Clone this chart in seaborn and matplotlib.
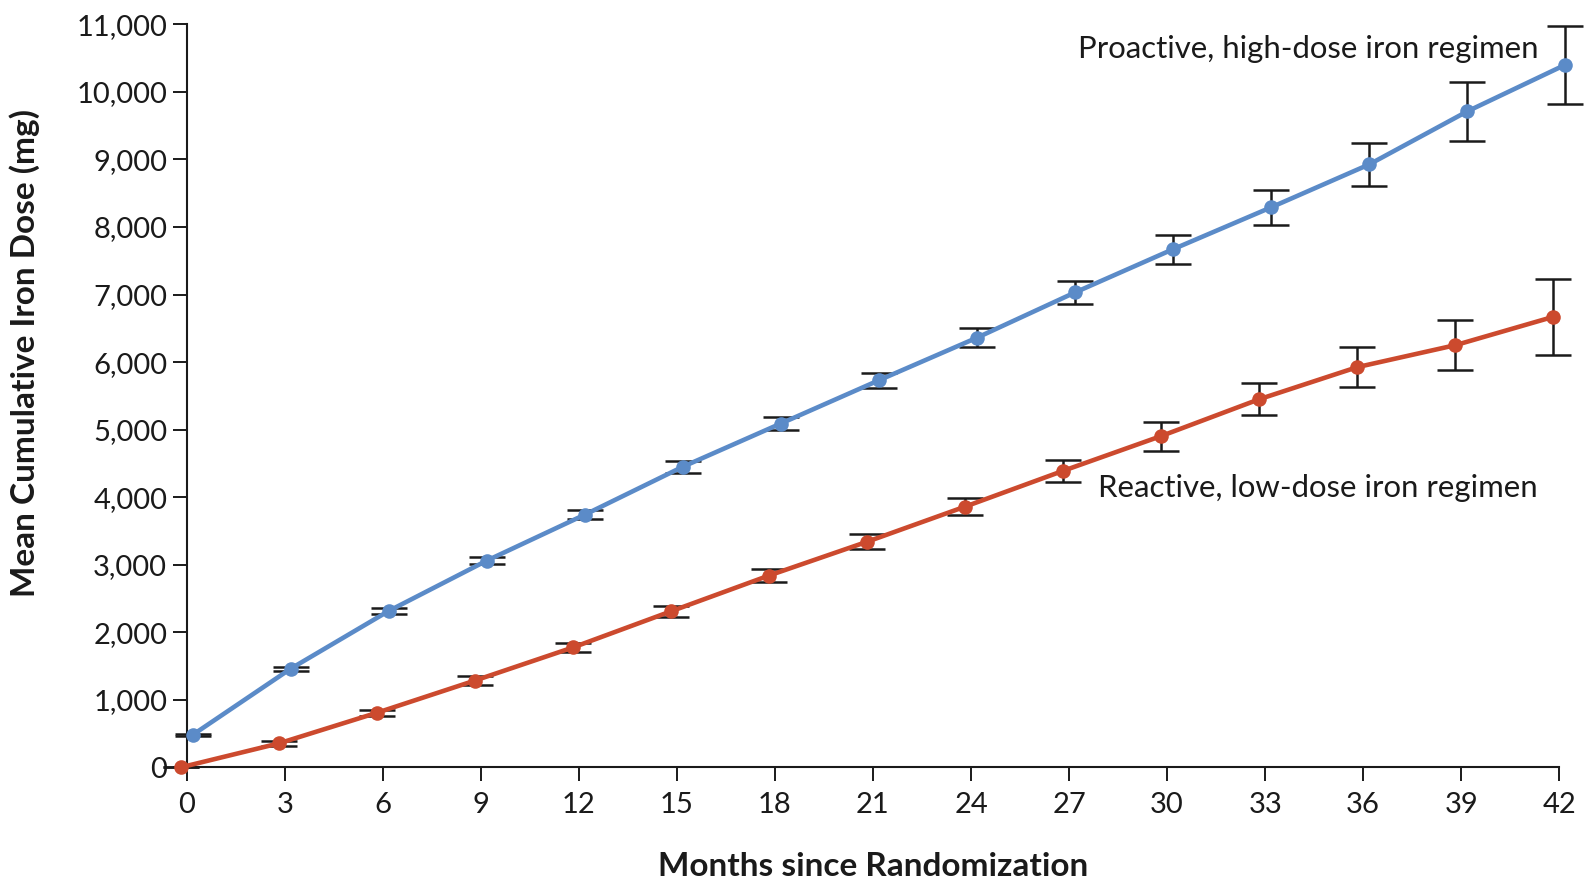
import numpy as np
import pandas as pd
import matplotlib
matplotlib.use("Agg")
import matplotlib.pyplot as plt
import seaborn as sns
from matplotlib.ticker import FuncFormatter

# ---------------- data ----------------
months = [0, 3, 6, 9, 12, 15, 18, 21, 24, 27, 30, 33, 36, 39, 42]
proactive_mean = [480, 1460, 2315, 3060, 3740, 4450, 5090, 5730, 6360, 7030, 7670, 8290, 8925, 9710, 10400]
proactive_err = [12, 32, 44, 55, 70, 90, 100, 115, 140, 170, 215, 255, 320, 440, 580]
reactive_mean = [0, 355, 808, 1285, 1775, 2310, 2840, 3340, 3860, 4390, 4905, 5450, 5925, 6250, 6670]
reactive_err = [0, 37, 44, 67, 62, 80, 90, 110, 130, 160, 215, 240, 300, 370, 565]
series_names = ["Proactive, high-dose iron regimen", "Reactive, low-dose iron regimen"]
x_ticks = list(range(0, 43, 3))
y_ticks = list(range(0, 11001, 1000))

# ---------------- style ----------------
BLUE = "#5b8bc8"
RED = "#cc4a2e"
DODGE = {series_names[0]: 0.18, series_names[1]: -0.18}

sns.set_theme(style="ticks")
plt.rcParams["font.family"] = ["Lato", "DejaVu Sans"]

df = pd.concat([
    pd.DataFrame({"month": months, "dose": proactive_mean, "err": proactive_err, "regimen": series_names[0]}),
    pd.DataFrame({"month": months, "dose": reactive_mean, "err": reactive_err, "regimen": series_names[1]}),
], ignore_index=True)
df["xpos"] = df["month"] + df["regimen"].map(DODGE)

fig = plt.figure(figsize=(15.89, 8.81), dpi=100)
ax = fig.add_axes([0.1175, 0.129, 0.8638, 0.8434])

# error bars (behind lines)
for name in series_names:
    sub = df[df["regimen"] == name]
    eb = ax.errorbar(sub["xpos"], sub["dose"], yerr=sub["err"], fmt="none",
                     ecolor="#1a1a1a", elinewidth=1.8, capsize=13.3, capthick=1.8, zorder=2)
    for art in list(eb.lines[1]) + list(eb.lines[2]):
        art.set_clip_on(False)

sns.lineplot(data=df, x="xpos", y="dose", hue="regimen", palette=[BLUE, RED],
             hue_order=series_names, marker="o", markersize=10.5, markeredgewidth=0,
             linewidth=3.3, legend=False, ax=ax, zorder=3, errorbar=None, sort=False)
for ln in ax.lines:
    ln.set_clip_on(False)

ax.set_xlim(0, 42)
ax.set_ylim(0, 11000)
ax.set_xticks(x_ticks)
ax.set_yticks(y_ticks)
ax.yaxis.set_major_formatter(FuncFormatter(lambda v, p: f"{int(v):,}"))
sns.despine(ax=ax)
for sp in ["left", "bottom"]:
    ax.spines[sp].set_linewidth(1.5)
    ax.spines[sp].set_color("#1a1a1a")
ax.tick_params(axis="both", length=10, width=1.4, color="#1a1a1a",
               labelsize=21, labelcolor="#1a1a1a", pad=4)
ax.tick_params(axis="x", pad=8)

ax.set_xlabel("Months since Randomization", fontsize=24, fontweight="bold",
              color="#1a1a1a", labelpad=24)
ax.set_ylabel("Mean Cumulative Iron Dose (mg)", fontsize=24, fontweight="bold",
              color="#1a1a1a")
ax.yaxis.set_label_coords(-0.107, 0.557)

ax.text(41.35, 10634, series_names[0], ha="right", va="center", fontsize=22.4, color="#1a1a1a")
ax.text(41.35, 4142, series_names[1], ha="right", va="center", fontsize=22.4, color="#1a1a1a")

fig.savefig("out.png", dpi=100)
